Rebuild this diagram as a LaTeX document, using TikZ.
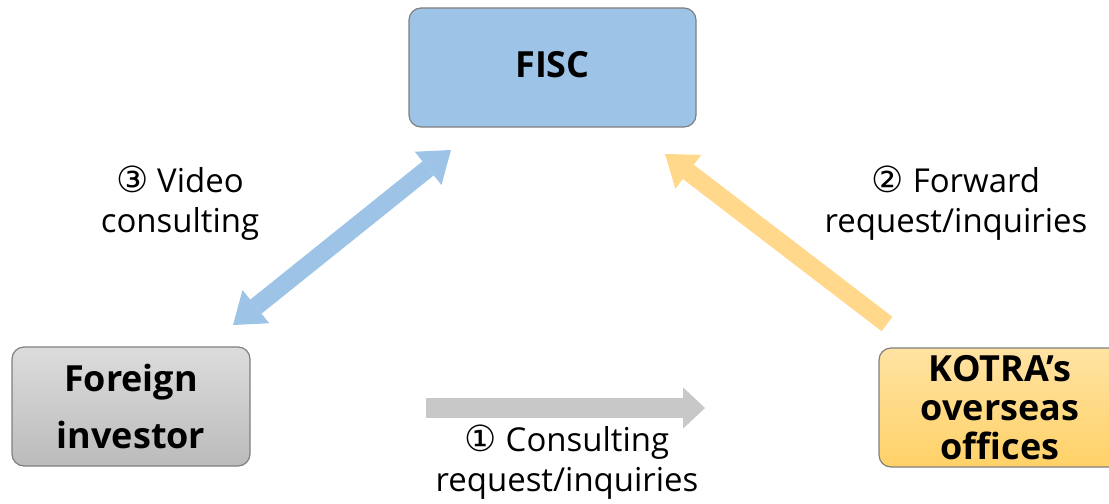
\documentclass[tikz,border=0pt]{standalone}
\usepackage{fontspec}
\setmainfont{Open Sans}
\newfontfamily\circfont{DejaVu Sans}
\usetikzlibrary{arrows.meta}
\definecolor{fiscblue}{HTML}{9DC3E6}
\definecolor{arrowyellow}{HTML}{FFD88C}
\definecolor{arrowgray}{HTML}{C8C8C8}
\definecolor{boxedge}{HTML}{7F7F7F}
\definecolor{graytop}{HTML}{DCDCDC}
\definecolor{graybot}{HTML}{BBBBBB}
\definecolor{yeltop}{HTML}{FFE3A3}
\definecolor{yelbot}{HTML}{FFD167}
\tikzset{
  box/.style={draw=boxedge, line width=0.9pt, rounded corners=9pt, align=center,
    minimum height=89.25pt, inner sep=0pt, font=\bfseries\fontsize{27}{43}\selectfont},
  lbl/.style={align=center, font=\fontsize{24.7}{30}\selectfont, inner sep=0pt},
  bigarrow/.style={line width=13.5pt}
}
\newcommand{\circnum}[1]{{\circfont\fontsize{27}{30}\selectfont #1}}
\begin{document}
\begin{tikzpicture}[x=0.75pt, y=-0.75pt]
\path[use as bounding box] (0,0) rectangle (1109,503);
% boxes
\node[box, fill=fiscblue, minimum width=215.25pt] (fisc) at (552.5,67.5) {\raisebox{4pt}{FISC}};
\node[box, top color=graytop, bottom color=graybot, minimum width=178.5pt] (inv) at (131,406.5) {Foreign\\investor};
\node[box, top color=yeltop, bottom color=yelbot, minimum width=181.5pt,
      font=\bfseries\fontsize{27}{29}\selectfont] (kotra) at (1000,407.5) {KOTRA’s\\overseas\\offices};
% arrow end points
\coordinate (b1) at (233,325);
\coordinate (b2) at (451,150);
\coordinate (y1) at (887,324);
\coordinate (y2) at (665,154);
\coordinate (g1) at (426,408);
\coordinate (g2) at (705,408);
% arrows
\draw[bigarrow, draw=fiscblue, {Triangle[length=22pt, width=32pt, line width=0pt]}-{Triangle[length=22pt, width=32pt, line width=0pt]}] (b1) -- (b2);
\draw[bigarrow, draw=arrowyellow, -{Triangle[length=22pt, width=32pt, line width=0pt]}] (y1) -- (y2);
\draw[line width=15pt, draw=arrowgray, -{Triangle[length=16.5pt, width=31pt, line width=0pt]}] (g1) -- (g2);
% labels
\node[lbl] (l3) at (180,203) {\circnum{③} Video\\consulting};
\node[lbl] (l2) at (956,203) {\circnum{②} Forward\\request/inquiries};
\node[lbl] (l1) at (567,462) {\circnum{①} Consulting\\request/inquiries};
\end{tikzpicture}
\end{document}
